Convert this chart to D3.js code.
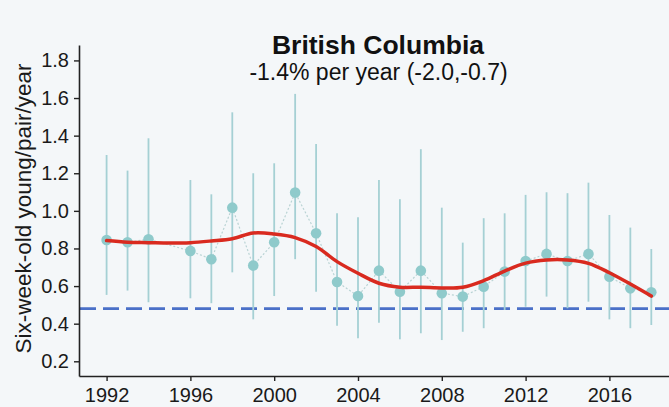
<!DOCTYPE html>
<html>
<head>
<meta charset="utf-8">
<script src="https://cdn.jsdelivr.net/npm/d3@7"></script>
<style>
  html, body { margin: 0; padding: 0; background: #f4f7f9; }
  svg { display: block; font-family: "Liberation Sans", Arial, sans-serif; }
</style>
</head>
<body>
<svg id="chart" width="669" height="407"></svg>
<script>
// Annual productivity, British Columbia
const years = [1992, 1993, 1994, 1996, 1997, 1998, 1999, 2000, 2001, 2002, 2003, 2004, 2005,
               2006, 2007, 2008, 2009, 2010, 2011, 2012, 2013, 2014, 2015, 2016, 2017, 2018];
const estimate = [0.845, 0.833, 0.849, 0.787, 0.743, 1.017, 0.709, 0.833, 1.097, 0.881, 0.622, 0.547, 0.682,
                  0.570, 0.682, 0.562, 0.544, 0.597, 0.677, 0.733, 0.771, 0.733, 0.771, 0.650, 0.588, 0.567];
const upper = [1.297, 1.214, 1.386, 1.164, 1.088, 1.524, 1.200, 1.253, 1.622, 1.356, 0.987, 0.966, 1.164,
               1.062, 1.328, 1.017, 0.831, 0.961, 0.987, 1.085, 1.099, 1.094, 1.150, 0.978, 0.911, 0.797];
const lower = [0.553, 0.576, 0.514, 0.535, 0.509, 0.673, 0.423, 0.547, 0.743, 0.570, 0.389, 0.322, 0.405,
               0.317, 0.349, 0.313, 0.357, 0.376, 0.473, 0.490, 0.544, 0.482, 0.517, 0.423, 0.376, 0.393];

// Smoothed trend
const trendYears = [1992, 1993, 1994, 1995, 1996, 1997, 1998, 1999, 2000, 2001, 2002, 2003, 2004, 2005,
                    2006, 2007, 2008, 2009, 2010, 2011, 2012, 2013, 2014, 2015, 2016, 2017, 2018];
const trend = [0.842, 0.833, 0.831, 0.829, 0.831, 0.840, 0.852, 0.882, 0.877, 0.858, 0.810, 0.730, 0.668, 0.615,
               0.594, 0.594, 0.590, 0.594, 0.629, 0.680, 0.722, 0.739, 0.739, 0.721, 0.671, 0.611, 0.547];

const threshold = 0.48;
const yTicks = [0.2, 0.4, 0.6, 0.8, 1.0, 1.2, 1.4, 1.6, 1.8];
const xTicks = [1992, 1996, 2000, 2004, 2008, 2012, 2016];

const title = "British Columbia";
const subtitle = "-1.4% per year (-2.0,-0.7)";
const yLabel = "Six-week-old young/pair/year";

const svg = d3.select("#chart");
const plotLeft = 79, plotRight = 669, plotTop = 45, plotBottom = 376;

const x = d3.scaleLinear().domain([1990.683, 2018.845]).range([plotLeft, plotRight]);
const y = d3.scaleLinear().domain([0.1218, 1.882]).range([plotBottom, plotTop]);

const pts = years.map((yr, i) => ({ yr, v: estimate[i], hi: upper[i], lo: lower[i] }));

// threshold line
svg.append("line")
  .attr("x1", plotLeft + 1).attr("x2", plotRight)
  .attr("y1", y(threshold)).attr("y2", y(threshold))
  .attr("stroke", "#4a70c8").attr("stroke-width", 2.6)
  .attr("stroke-dasharray", "16,7");

// error bars
svg.append("g").selectAll("line").data(pts).join("line")
  .attr("x1", d => x(d.yr)).attr("x2", d => x(d.yr))
  .attr("y1", d => y(d.hi)).attr("y2", d => y(d.lo))
  .attr("stroke", "#a5d0d4").attr("stroke-width", 1.8);

// dotted connector between yearly estimates
svg.append("path")
  .datum(pts)
  .attr("fill", "none")
  .attr("stroke", "#b9d3d4").attr("stroke-width", 1.2)
  .attr("stroke-dasharray", "2,2")
  .attr("d", d3.line().x(d => x(d.yr)).y(d => y(d.v)));

// points
svg.append("g").selectAll("circle").data(pts).join("circle")
  .attr("cx", d => x(d.yr)).attr("cy", d => y(d.v)).attr("r", 5.3)
  .attr("fill", "#8fcacb");

// trend
svg.append("path")
  .datum(trendYears.map((yr, i) => ({ yr, v: trend[i] })))
  .attr("fill", "none")
  .attr("stroke", "#d92a1f").attr("stroke-width", 3.5)
  .attr("stroke-linecap", "round")
  .attr("d", d3.line().curve(d3.curveCatmullRom).x(d => x(d.yr)).y(d => y(d.v)));

// axes
const yAxis = svg.append("g").attr("transform", `translate(${plotLeft},0)`)
  .call(d3.axisLeft(y).tickValues(yTicks).tickFormat(d3.format(".1f")).tickSize(5).tickPadding(5).tickSizeOuter(0));
const xAxis = svg.append("g").attr("transform", `translate(0,${plotBottom})`)
  .call(d3.axisBottom(x).tickValues(xTicks).tickFormat(d3.format("d")).tickSize(5).tickPadding(7).tickSizeOuter(0));

[yAxis, xAxis].forEach(g => {
  g.select(".domain").attr("stroke", "#222").attr("stroke-width", 1.6);
  g.selectAll(".tick line").attr("stroke", "#222").attr("stroke-width", 1.4);
  g.selectAll(".tick text").attr("fill", "#1a1a1a").style("font-size", "20px")
    .style("font-family", "'Liberation Sans', Arial, sans-serif");
});

// titles
svg.append("text").attr("x", 378).attr("y", 54).attr("text-anchor", "middle")
  .style("font-size", "26.5px").style("font-weight", "bold").attr("fill", "#111").text(title);
svg.append("text").attr("x", 378.5).attr("y", 80).attr("text-anchor", "middle")
  .style("font-size", "23px").attr("fill", "#111").text(subtitle);

// y-axis label
svg.append("text")
  .attr("transform", `translate(31,${(60 + 357) / 2}) rotate(-90)`)
  .attr("text-anchor", "middle")
  .style("font-size", "22.5px").attr("fill", "#1a1a1a").text(yLabel);
</script>
</body>
</html>
